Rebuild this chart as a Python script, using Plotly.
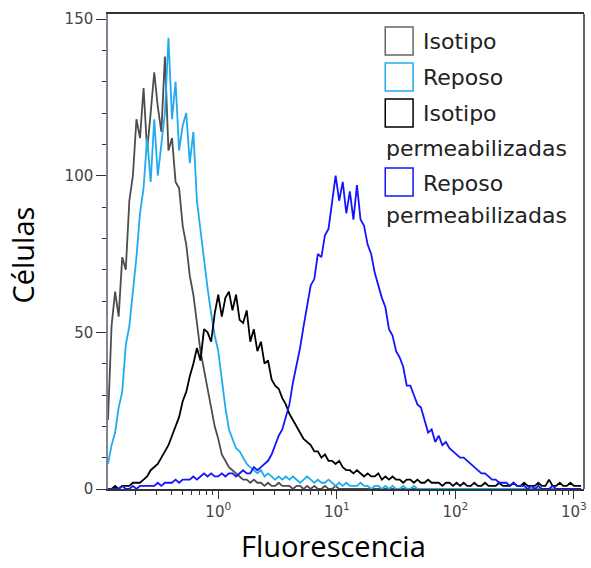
import numpy as np
import plotly.graph_objects as go

# ---- data: fluorescence histograms (log10 bins, 0.03 decade wide) ----
log_start = -0.93
log_step = 0.03
n_bins = 134

isotipo = [22, 52, 63, 55, 74, 70, 92, 100, 118, 112,
           128, 108, 120, 133, 122, 114, 138, 108, 112, 98,
           96, 84, 78, 68, 62, 52, 44, 38, 32, 27,
           20, 16, 11, 9, 7, 6, 5, 4, 3, 3,
           2, 3, 2, 2, 1, 2, 1, 1, 2, 1,
           1, 1, 0, 1, 1, 0, 1, 0, 1, 0,
           0, 1, 0, 0, 1, 0, 0, 0, 0, 0] + [0] * 64

reposo = [8, 14, 18, 26, 31, 46, 52, 62, 74, 88,
          96, 112, 98, 118, 100, 110, 120, 144, 118, 130,
          108, 116, 120, 104, 114, 92, 82, 72, 64, 56,
          49, 44, 35, 26, 19, 16, 13, 12, 10, 8,
          7, 6, 5, 6, 4, 5, 4, 3, 4, 3,
          4, 3, 4, 3, 2, 3, 4, 3, 2, 3,
          2, 2, 3, 2, 1, 2, 1, 2, 1, 1,
          1, 2, 1, 1, 0, 1, 1, 0, 1, 0,
          1, 0, 0, 1, 0, 0, 1, 0, 0, 0] + [0] * 44

isotipo_perm = [0, 0, 1, 0, 1, 1, 1, 2, 2, 2,
                3, 4, 6, 7, 8, 10, 12, 14, 17, 20,
                23, 28, 31, 36, 40, 45, 41, 51, 50, 47,
                56, 62, 55, 61, 63, 57, 62, 54, 53, 57,
                47, 51, 44, 47, 40, 41, 35, 33, 32, 29,
                27, 24, 22, 20, 18, 16, 15, 14, 12, 12,
                10, 11, 9, 9, 8, 9, 7, 6, 6, 5,
                6, 5, 4, 5, 4, 4, 5, 3, 4, 3,
                4, 3, 3, 2, 3, 3, 2, 3, 2, 2,
                3, 2, 2, 2, 1, 2, 2, 1, 2, 1,
                2, 1, 1, 2, 1, 1, 2, 1, 1, 1,
                2, 1, 1, 1, 2, 1, 1, 2, 1, 1,
                1, 2, 1, 1, 3, 1, 1, 2, 1, 1,
                2, 1, 1, 1]

reposo_perm = [0, 0, 0, 0, 1, 0, 0, 1, 0, 1,
               1, 1, 1, 1, 2, 1, 2, 2, 2, 3,
               2, 3, 3, 3, 4, 3, 4, 5, 4, 5,
               4, 4, 5, 4, 5, 5, 4, 5, 6, 5,
               5, 7, 6, 7, 8, 9, 11, 14, 17, 19,
               23, 27, 34, 39, 45, 52, 58, 65, 67, 75,
               74, 81, 83, 91, 100, 92, 98, 88, 95, 86,
               97, 86, 84, 78, 75, 69, 65, 61, 58, 51,
               49, 44, 42, 39, 33, 33, 30, 27, 26, 22,
               18, 19, 15, 17, 14, 15, 13, 12, 11, 10,
               10, 9, 8, 7, 6, 5, 5, 4, 3, 3,
               2, 2, 2, 1, 2, 1, 1, 1, 0, 1,
               0, 1, 0, 0, 0, 1, 0, 0, 0, 0,
               0, 0, 0, 0]

series_names = ["Isotipo", "Reposo", "Isotipo permeabilizadas", "Reposo permeabilizadas"]
series_colors = ["#4d4d4d", "#22aaee", "#000000", "#1414ff"]
series_values = [isotipo, reposo, isotipo_perm, reposo_perm]

x_ticks = [1, 10, 100, 1000]
x_tick_text = ["10<sup>0</sup>", "10<sup>1</sup>", "10<sup>2</sup>", "10<sup>3</sup>"]
y_ticks = [0, 50, 100, 150]

x_vals = 10 ** (log_start + log_step * np.arange(n_bins))

fig = go.Figure()
for name, col, vals in zip(series_names, series_colors, series_values):
    fig.add_trace(go.Scatter(x=x_vals, y=vals, mode="lines", name=name,
                             line=dict(color=col, width=1.8), showlegend=False))

W, H = 591, 568
L, R, T, B = 108, 4, 14, 79
pw, ph = W - L - R, H - T - B

def px(xp, yp):
    return (xp - L) / pw, (H - B - yp) / ph

tick_font = dict(family="DejaVu Sans", size=15, color="#444444")
minor_x = [k * 10.0 ** d for d in range(-1, 3) for k in range(2, 10)]

fig.update_layout(
    width=W, height=H,
    margin=dict(l=L, r=R, t=T, b=B),
    plot_bgcolor="white", paper_bgcolor="white",
    xaxis=dict(type="log", range=[-0.93, 3.085], showgrid=False, zeroline=False,
               showline=True, linecolor="#333333", linewidth=1.5, mirror=True,
               ticks="outside", ticklen=8, tickcolor="#333333",
               tickvals=x_ticks, ticktext=x_tick_text, tickfont=tick_font,
               minor=dict(tickvals=minor_x, ticks="outside", ticklen=4,
                          tickcolor="#333333", showgrid=False)),
    yaxis=dict(range=[0, 151.6], showgrid=False, zeroline=False,
               showline=True, linecolor="#7a8896", linewidth=1.5,
               ticks="outside", ticklen=10, tickcolor="#333333",
               tickvals=y_ticks, tickfont=tick_font,
               minor=dict(dtick=10, ticks="outside", ticklen=4,
                          tickcolor="#333333", showgrid=False)),
)

# right frame
fig.add_shape(type="line", xref="paper", yref="paper", x0=1, x1=1, y0=0, y1=1,
              line=dict(color="#333333", width=1.5))

# axis titles
title_font = dict(family="Open Sans", size=29, color="#000000")
tx, ty = px(335, 545)
fig.add_annotation(text="Fluorescencia", xref="paper", yref="paper", x=tx, y=ty,
                   showarrow=False, font=title_font, xanchor="center", yanchor="middle")
tx, ty = px(21, 255)
fig.add_annotation(text="Células", xref="paper", yref="paper", x=tx, y=ty,
                   showarrow=False, font=title_font, textangle=-90,
                   xanchor="center", yanchor="middle")

# manual legend
leg_font = dict(family="DejaVu Sans", size=22, color="#222222")
boxes = [(27, 55), (63, 91), (99, 127), (168, 196)]
for (y0p, y1p), col in zip(boxes, ["#666666", "#22aaee", "#000000", "#1414ff"]):
    x0, y0 = px(387, y1p)
    x1, y1 = px(415, y0p)
    fig.add_shape(type="rect", xref="paper", yref="paper", x0=x0, x1=x1, y0=y0, y1=y1,
                  line=dict(color=col, width=1.5), fillcolor="rgba(0,0,0,0)")
legend_lines = [("Isotipo", 423, 41), ("Reposo", 423, 77), ("Isotipo", 423, 113),
                ("permeabilizadas", 386, 148), ("Reposo", 423, 183),
                ("permeabilizadas", 386, 216)]
for txt, xp_, yp_ in legend_lines:
    ax_, ay_ = px(xp_, yp_)
    fig.add_annotation(text=txt, xref="paper", yref="paper", x=ax_, y=ay_,
                       showarrow=False, font=leg_font, xanchor="left", yanchor="middle")

fig.write_html("out.html")
